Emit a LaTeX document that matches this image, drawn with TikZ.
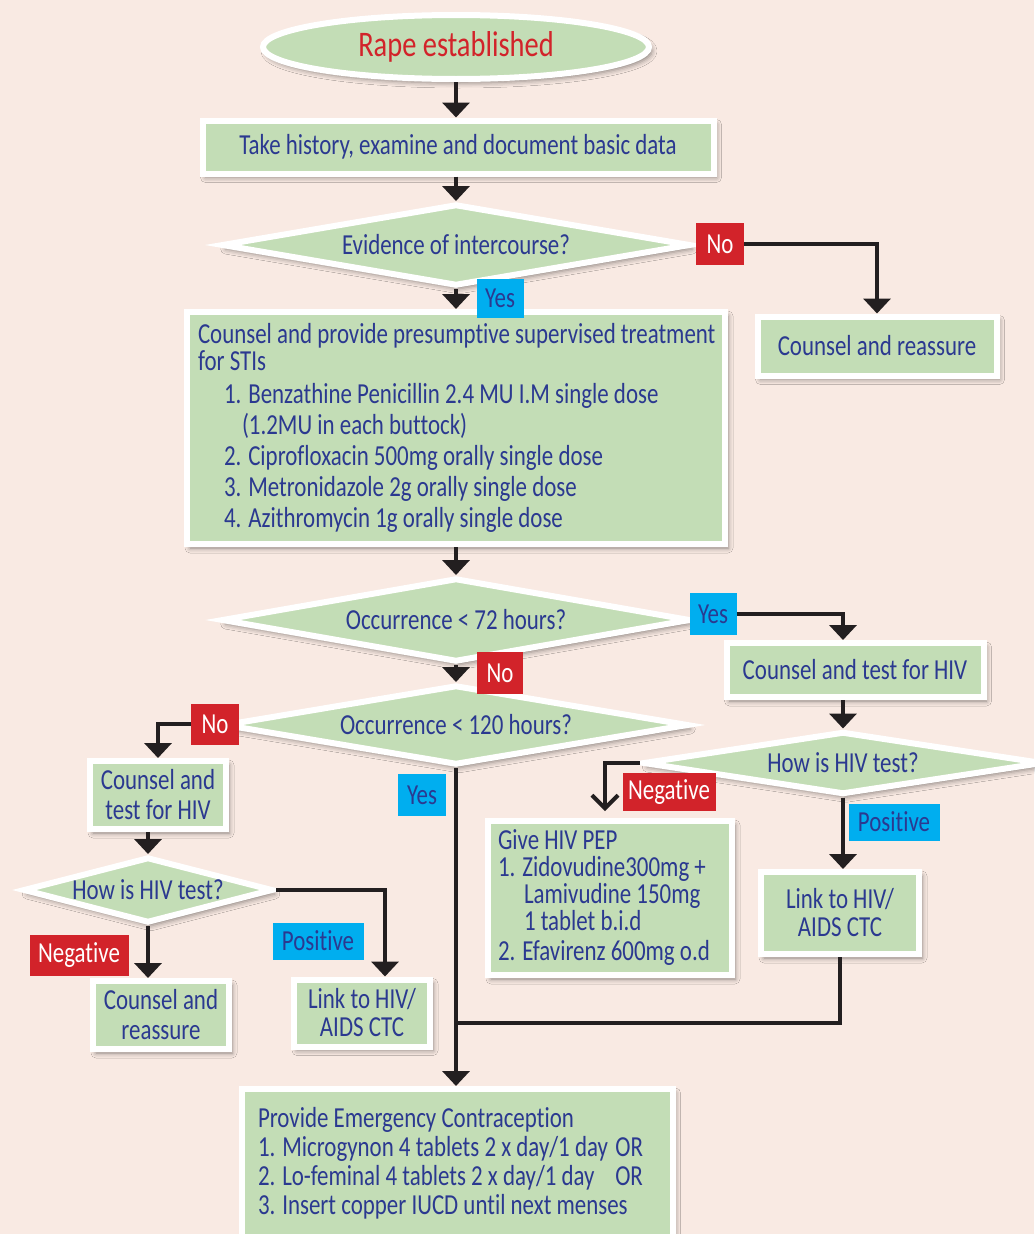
\documentclass[tikz,border=0pt]{standalone}
\usepackage{fontspec}
\setmainfont{Carlito}[FakeStretch=0.79,Ligatures=NoCommon]
\usetikzlibrary{shapes.geometric,arrows.meta,shadows.blur}
\definecolor{bgpink}{HTML}{F9EAE3}
\definecolor{boxgreen}{HTML}{C3DDB6}
\definecolor{txtblue}{HTML}{2B3990}
\definecolor{labred}{HTML}{D2232A}
\definecolor{labblue}{HTML}{00AEEF}
\definecolor{linecol}{HTML}{231F20}
\begin{document}
\begin{tikzpicture}[x=1pt,y=-1pt,
    every node/.style={font=\fontsize{29}{30}\selectfont,text=txtblue},
    shad/.style={blur shadow={shadow xshift=3pt,shadow yshift=-4pt,shadow blur radius=5pt,shadow opacity=45}},
    box/.style={rectangle,fill=boxgreen,draw=white,line width=6pt,shad,inner sep=0pt},
    dec/.style={diamond,aspect=6.2,fill=boxgreen,draw=white,line width=6pt,shad,inner sep=0pt},
    yeslab/.style={fill=labblue,inner sep=0pt},
    nolab/.style={fill=labred,text=white,inner sep=0pt},
    arr/.style={line width=4pt,draw=linecol,-{Triangle[width=27pt,length=15pt]}},
    ln/.style={line width=4pt,draw=linecol}]
    \def\ind{\hspace*{26pt}}
    \path[use as bounding box,fill=bgpink] (0,0) rectangle (1034,1234);
    % main column
    \node[ellipse,fill=boxgreen,draw=white,line width=6pt,shad,minimum width=386pt,minimum height=64pt,
        text=labred,font=\fontsize{36}{38}\selectfont] (start) at (456,47) {Rape established};
    \node[box,minimum width=511pt,minimum height=53pt] (hist) at (458,147) {Take history, examine and document basic data};
    \node[dec,minimum width=469pt,minimum height=82pt] (q1) at (456,245) {Evidence of intercourse?};
    \node[box,minimum width=538pt,minimum height=232pt,align=left,font=\fontsize{29}{31}\selectfont] (sti) at (456,428)
        {\makebox[516pt][l]{Counsel and provide presumptive supervised treatment}\\[-4pt]
         for STIs\\[2pt]
         \ind 1. Benzathine Penicillin 2.4 MU I.M single dose\\
         \hspace*{44pt}(1.2MU in each buttock)\\
         \ind 2. Ciprofloxacin 500mg orally single dose\\
         \ind 3. Metronidazole 2g orally single dose\\
         \ind 4. Azithromycin 1g orally single dose};
    \node[box,minimum width=239pt,minimum height=59pt] (reas) at (877,346) {Counsel and reassure};
    \node[dec,minimum width=469pt,minimum height=84pt] (q2) at (456,620) {Occurrence < 72 hours?};
    \node[box,minimum width=257pt,minimum height=54pt] (cth) at (855,670) {Counsel and test for HIV};
    \node[dec,minimum width=465pt,minimum height=80pt] (q3) at (456,725) {Occurrence < 120 hours?};
    % left branch
    \node[box,minimum width=136pt,minimum height=68pt,align=center] (cta) at (158,795) {Counsel and\\test for HIV};
    \node[dec,aspect=3.8,minimum width=250pt,minimum height=66pt] (q4) at (148,890) {How is HIV test?};
    \node[box,minimum width=136pt,minimum height=68pt,align=center] (crl) at (161,1015) {Counsel and\\reassure};
    \node[box,minimum width=136pt,minimum height=67pt,align=center,font=\fontsize{29}{28}\selectfont] (lnkl) at (362,1013) {Link to HIV/\\AIDS CTC};
    % right branch
    \node[dec,minimum width=400pt,minimum height=63pt] (q5) at (843,763) {How is HIV test?};
    \node[box,minimum width=244pt,minimum height=154pt,align=left,font=\fontsize{29}{27}\selectfont] (pep) at (610,898)
        {\makebox[224pt][l]{Give HIV PEP}\\
         1. Zidovudine300mg +\\
         \ind Lamivudine 150mg\\
         \ind 1 tablet b.i.d\\[3pt]
         2. Efavirenz 600mg o.d};
    \node[box,minimum width=158pt,minimum height=82pt,align=center,font=\fontsize{29}{28}\selectfont] (lnkr) at (840,913) {Link to HIV/\\AIDS CTC};
    \node[box,minimum width=431pt,minimum height=148pt,align=left,font=\fontsize{29}{29}\selectfont] (ec) at (457,1163)
        {\makebox[398pt][l]{Provide Emergency Contraception}\\
         \makebox[398pt][l]{1. Microgynon 4 tablets 2 x day/1 day\hfill OR\hspace*{13pt}}\\
         \makebox[398pt][l]{2. Lo-feminal 4 tablets 2 x day/1 day\hfill OR\hspace*{13pt}}\\
         \makebox[398pt][l]{3. Insert copper IUCD until next menses}};
    % connectors
    \draw[arr] (start.south) -- (start.south |- hist.north);
    \draw[arr] (hist.south -| q1.north) -- (q1.north);
    \draw[arr] (q1.south) -- (sti.north);
    \draw[arr] (sti.south) -- (q2.north);
    \draw[arr] (q2.south) -- (q3.north);
    \draw[arr] (q3.south) -- (q3.south |- ec.north);
    \draw[arr] (cta.south -| q4.north) -- (q4.north);
    \draw[arr] (q4.south) -- (q4.south |- crl.north);
    \draw[arr] (q4.east) -| ([xshift=23pt]lnkl.north);
    \draw[arr] (cth.south -| q5.north) -- (q5.north);
    \draw[arr] (q5.south) -- (q5.south |- lnkr.north);
    \coordinate (join) at (456,1023);
    \draw[ln] (lnkr.south) |- (join);
    % yes / no labels
    \node[nolab,minimum width=48pt,minimum height=42pt] (no1) at (720,244) {No};
    \draw[arr] (no1.east) -| (reas.north);
    \node[yeslab,minimum width=47pt,minimum height=39pt] (yes1) at (500,298) {Yes};
    \node[yeslab,minimum width=47pt,minimum height=42pt] (yes2) at (713,614) {Yes};
    \draw[arr] (yes2.east) -| (q5.north |- cth.north);
    \node[nolab,minimum width=46pt,minimum height=42pt] (no2) at (500,673) {No};
    \node[nolab,minimum width=48pt,minimum height=41pt] (no3) at (215,724) {No};
    \draw[arr] (no3.west) -| (cta.north);
    \node[yeslab,minimum width=48pt,minimum height=42pt] (yes3) at (422,795) {Yes};
    \node[nolab,minimum width=93pt,minimum height=38pt] (negr) at (669,792) {Negative};
    \draw[line width=4pt,draw=linecol,-{Straight Barb[width=26pt,length=13pt]}] (q5.west) -| ([xshift=-5pt,yshift=7pt]pep.north);
    \node[yeslab,minimum width=91pt,minimum height=37pt] (posr) at (894,822) {Positive};
    \node[yeslab,minimum width=91pt,minimum height=37pt] (posl) at (318,941) {Positive};
    \node[nolab,minimum width=99pt,minimum height=41pt] (negl) at (79,955) {Negative};
\end{tikzpicture}
\end{document}
